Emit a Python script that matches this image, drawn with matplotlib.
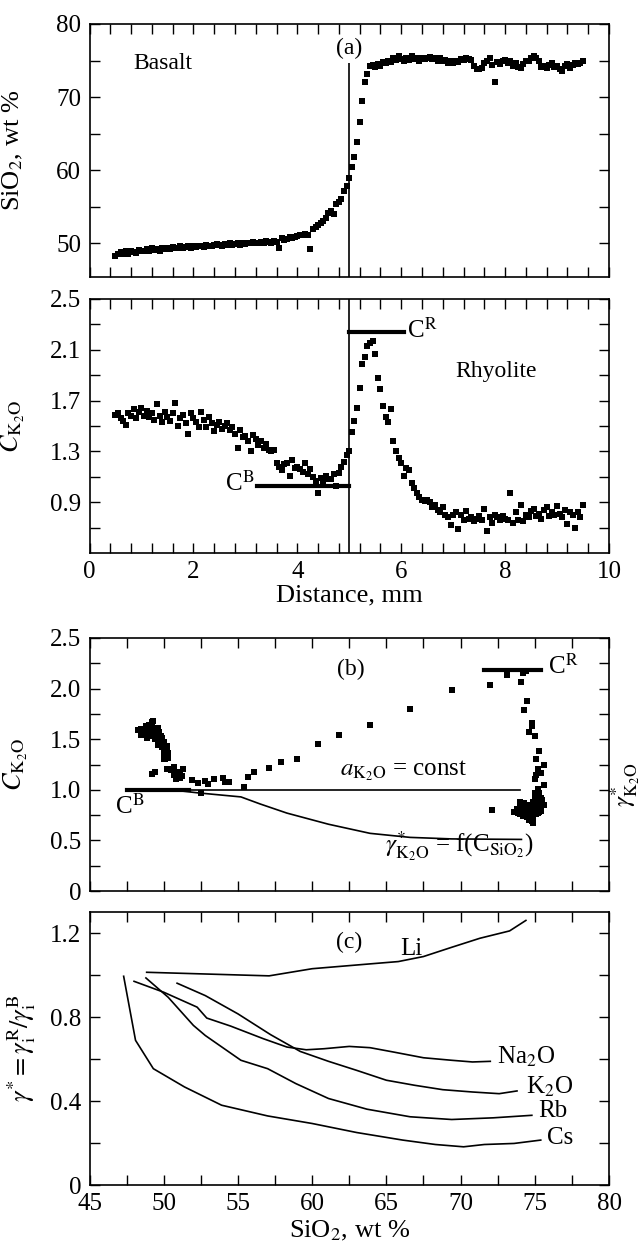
import matplotlib
matplotlib.use('Agg')
import matplotlib.pyplot as plt
from matplotlib.ticker import MultipleLocator, FixedLocator, FuncFormatter

plt.rcParams['font.family'] = ['Liberation Serif', 'DejaVu Serif']
plt.rcParams['mathtext.fontset'] = 'stix'

# ---- traverse data (panels a and lower distance panel) ----
distance = [
    0.50, 0.55, 0.60, 0.65, 0.70, 0.75, 0.80, 0.85, 0.90, 0.95,
    1.00, 1.05, 1.10, 1.15, 1.20, 1.25, 1.30, 1.35, 1.40, 1.45,
    1.50, 1.55, 1.60, 1.65, 1.70, 1.75, 1.80, 1.85, 1.90, 1.95,
    2.00, 2.05, 2.10, 2.15, 2.20, 2.25, 2.30, 2.35, 2.40, 2.45,
    2.50, 2.55, 2.60, 2.65, 2.70, 2.75, 2.80, 2.85, 2.90, 2.95,
    3.00, 3.05, 3.10, 3.15, 3.20, 3.25, 3.30, 3.35, 3.40, 3.45,
    3.50, 3.55, 3.60, 3.65, 3.70, 3.75, 3.80, 3.85, 3.90, 3.95,
    4.00, 4.05, 4.10, 4.15, 4.20, 4.25, 4.30, 4.35, 4.40, 4.45,
    4.50, 4.55, 4.60, 4.65, 4.70, 4.75, 4.80, 4.85, 4.90, 4.95,
    5.00, 5.05, 5.10, 5.15, 5.20, 5.25, 5.30, 5.35, 5.40, 5.45,
    5.50, 5.55, 5.60, 5.65, 5.70, 5.75, 5.80, 5.85, 5.90, 5.95,
    6.00, 6.05, 6.10, 6.15, 6.20, 6.25, 6.30, 6.35, 6.40, 6.45,
    6.50, 6.55, 6.60, 6.65, 6.70, 6.75, 6.80, 6.85, 6.90, 6.95,
    7.00, 7.05, 7.10, 7.15, 7.20, 7.25, 7.30, 7.35, 7.40, 7.45,
    7.50, 7.55, 7.60, 7.65, 7.70, 7.75, 7.80, 7.85, 7.90, 7.95,
    8.00, 8.05, 8.10, 8.15, 8.20, 8.25, 8.30, 8.35, 8.40, 8.45,
    8.50, 8.55, 8.60, 8.65, 8.70, 8.75, 8.80, 8.85, 8.90, 8.95,
    9.00, 9.05, 9.10, 9.15, 9.20, 9.25, 9.30, 9.35, 9.40, 9.45,
    9.50,
]

sio2 = [
    48.3, 48.5, 48.8, 48.5, 48.9, 48.6, 49.0, 48.8, 48.7, 49.1,
    49.0, 48.9, 49.2, 49.0, 49.3, 49.1, 49.2, 49.0, 49.3, 49.2,
    49.4, 49.2, 49.5, 49.3, 49.4, 49.6, 49.4, 49.5, 49.6, 49.4,
    49.6, 49.5, 49.7, 49.6, 49.5, 49.8, 49.7, 49.6, 49.8, 49.9,
    49.8, 49.7, 49.9, 49.8, 50.0, 49.8, 49.9, 50.0, 49.8, 50.0,
    49.9, 50.1, 50.0, 50.2, 50.1, 50.0, 50.2, 50.1, 50.3, 50.2,
    50.1, 50.3, 50.2, 49.4, 50.7, 50.5, 50.6, 50.8, 50.7, 50.9,
    51.0, 51.1, 51.2, 51.3, 51.1, 49.2, 51.9, 52.3, 52.5, 52.8,
    53.0, 53.4, 54.1, 54.4, 54.0, 55.4, 55.7, 56.1, 57.1, 57.9,
    59.0, 60.4, 61.8, 63.9, 66.6, 69.4, 72.0, 73.1, 74.2, 74.4,
    74.1, 74.5, 74.3, 74.8, 74.6, 75.0, 74.8, 75.3, 75.1, 75.6,
    75.2, 75.0, 75.4, 75.1, 75.6, 75.2, 75.3, 75.0, 75.4, 75.2,
    75.3, 75.5, 75.2, 75.4, 75.0, 75.3, 74.9, 75.1, 74.6, 74.9,
    74.7, 75.0, 74.8, 75.2, 75.1, 75.3, 75.2, 75.1, 74.3, 73.9,
    73.8, 74.0, 74.6, 74.9, 75.3, 74.4, 72.1, 74.8, 74.5, 75.0,
    75.1, 74.6, 75.0, 74.2, 74.7, 74.1, 74.0, 74.5, 74.9, 75.0,
    75.3, 75.6, 75.4, 74.9, 74.1, 74.3, 74.0, 74.4, 74.6, 74.1,
    74.3, 73.8, 73.6, 74.2, 74.5, 74.0, 74.4, 74.6, 74.5, 74.7,
    74.9,
]

k2o = [
    1.59, 1.60, 1.56, 1.54, 1.51, 1.60, 1.58, 1.63, 1.56, 1.61,
    1.64, 1.58, 1.62, 1.57, 1.60, 1.55, 1.67, 1.58, 1.53, 1.61,
    1.57, 1.54, 1.60, 1.68, 1.50, 1.56, 1.59, 1.52, 1.44, 1.60,
    1.56, 1.53, 1.49, 1.61, 1.55, 1.49, 1.57, 1.52, 1.46, 1.51,
    1.53, 1.48, 1.50, 1.52, 1.47, 1.49, 1.44, 1.33, 1.47, 1.41,
    1.42, 1.38, 1.30, 1.43, 1.40, 1.35, 1.38, 1.33, 1.36, 1.31,
    1.30, 1.31, 1.21, 1.18, 1.15, 1.20, 1.21, 1.11, 1.23, 1.17,
    1.18, 1.16, 1.14, 1.21, 1.12, 1.16, 1.10, 1.07, 0.97, 1.09,
    1.06, 1.11, 1.08, 1.08, 1.12, 1.03, 1.13, 1.18, 1.22, 1.27,
    1.30, 1.45, 1.54, 1.64, 1.80, 1.99, 2.04, 2.13, 2.15, 2.17,
    2.07, 1.88, 1.79, 1.66, 1.57, 1.53, 1.63, 1.38, 1.30, 1.25,
    1.21, 1.11, 1.17, 1.15, 1.05, 1.01, 0.97, 0.94, 0.92, 0.91,
    0.92, 0.90, 0.86, 0.88, 0.84, 0.82, 0.86, 0.80, 0.78, 0.72,
    0.80, 0.82, 0.69, 0.80, 0.76, 0.83, 0.77, 0.78, 0.75, 0.77,
    0.79, 0.76, 0.85, 0.67, 0.78, 0.74, 0.80, 0.78, 0.76, 0.79,
    0.77, 0.76, 0.97, 0.74, 0.82, 0.76, 0.88, 0.75, 0.80, 0.78,
    0.83, 0.85, 0.79, 0.81, 0.77, 0.84, 0.86, 0.79, 0.82, 0.80,
    0.87, 0.81, 0.78, 0.84, 0.73, 0.82, 0.80, 0.70, 0.82, 0.78,
    0.88,
]

# interface and end-member levels
interface = 5.0
cb_dist, cb_dist_start = 1.03, 3.22
cr_dist, cr_dist_end = 2.24, 6.06
cb_sio2_range, cb_level = (47.5, 51.7), 1.0
cr_sio2_range, cr_level = (71.6, 75.4), 2.18
const_sio2_range = (47.5, 74.0)

# gamma*(K2O) curve in panel (b)
gamma_sio2 = [50.5, 52.3, 55.2, 56.5, 58.3, 61.1, 63.9, 66.6, 69.4, 74.1]
gamma_k2o = [1.0, 0.97, 0.93, 0.86, 0.77, 0.66, 0.57, 0.53, 0.515, 0.51]

# panel (c) curves
li_x = [48.85, 57.1, 60.0, 63.9, 65.8, 67.5, 69.4, 71.3, 73.3, 74.4]
li_y = [1.013, 0.996, 1.03, 1.053, 1.064, 1.088, 1.132, 1.175, 1.21, 1.26]
na_x = [48.0, 50.0, 52.25, 52.9, 54.5, 56.7, 58.3, 59.6, 60.8, 62.5, 63.9, 65.5, 67.5, 69.4, 70.8, 72.0]
na_y = [0.97, 0.918, 0.847, 0.795, 0.757, 0.697, 0.657, 0.644, 0.649, 0.66, 0.654, 0.633, 0.606, 0.594, 0.586, 0.589]
k_x = [50.9, 52.8, 55.0, 57.2, 59.2, 61.1, 63.0, 65.0, 66.9, 68.8, 70.8, 72.6, 73.8]
k_y = [0.961, 0.902, 0.815, 0.716, 0.636, 0.589, 0.546, 0.499, 0.475, 0.454, 0.443, 0.435, 0.448]
rb_x = [48.8, 50.3, 52.0, 52.8, 55.2, 57.0, 58.9, 61.1, 63.7, 66.6, 69.4, 72.2, 74.8]
rb_y = [0.986, 0.894, 0.76, 0.712, 0.594, 0.554, 0.483, 0.412, 0.361, 0.325, 0.312, 0.32, 0.332]
cs_x = [47.3, 48.1, 49.3, 51.4, 53.9, 57.0, 60.0, 63.0, 66.1, 68.3, 70.2, 71.6, 73.6, 75.4]
cs_y = [0.994, 0.689, 0.554, 0.467, 0.38, 0.329, 0.293, 0.25, 0.214, 0.193, 0.182, 0.193, 0.198, 0.214]

TICK = 18
LAB = 19
ANN = 17


def style(ax):
    ax.tick_params(which='both', direction='in', top=True, right=True,
                   length=7.5, width=1.0, labelsize=TICK, pad=6)
    for s in ax.spines.values():
        s.set_linewidth(1.2)


def fmt(v, pos):
    return '0' if abs(v) < 1e-9 else f'{v:.1f}'


fig = plt.figure(figsize=(6.44, 12.41), dpi=100)
L, W = 0.139, 0.8067

# ---- (a) SiO2 vs distance ----
ax1 = fig.add_axes([L, 0.7768, W, 0.2039])
ax1.plot(distance, sio2, 's', color='black', ms=3.8, mew=0)
ax1.vlines(interface, 45.4, 74.6, color='black', lw=1.2)
ax1.set_xlim(0, 10)
ax1.set_ylim(45.4, 80)
ax1.xaxis.set_major_locator(MultipleLocator(2))
ax1.xaxis.set_minor_locator(MultipleLocator(0.4))
ax1.yaxis.set_major_locator(MultipleLocator(10))
ax1.yaxis.set_minor_locator(MultipleLocator(5))
style(ax1)
ax1.tick_params(labelbottom=False)
ax1.set_ylabel(r'SiO$_2$, wt %', fontsize=LAB)
ax1.yaxis.set_label_coords(-0.124, 0.5)
ax1.text(0.85, 74.6, 'Basalt', fontsize=ANN, ha='left', va='center')
ax1.text(interface, 76.7, '(a)', fontsize=ANN, ha='center', va='center')

# ---- C_K2O vs distance ----
ax2 = fig.add_axes([L, 0.5544, W, 0.2047])
ax2.plot(distance, k2o, 's', color='black', ms=3.8, mew=0)
ax2.axvline(interface, color='black', lw=1.2)
ax2.plot([cb_dist_start, interface], [cb_dist, cb_dist], color='black', lw=3)
ax2.plot([interface, cr_dist_end], [cr_dist, cr_dist], color='black', lw=3)
ax2.set_xlim(0, 10)
ax2.set_ylim(0.5, 2.5)
ax2.xaxis.set_major_locator(MultipleLocator(2))
ax2.xaxis.set_minor_locator(MultipleLocator(0.4))
ax2.yaxis.set_major_locator(FixedLocator([0.9, 1.3, 1.7, 2.1, 2.5]))
ax2.yaxis.set_minor_locator(FixedLocator([0.7, 1.1, 1.5, 1.9, 2.3]))
style(ax2)
ax2.set_ylabel(r'$C_{\mathrm{K_2O}}$', fontsize=LAB)
ax2.yaxis.set_label_coords(-0.12, 0.5)
ax2.set_xlabel('Distance, mm', fontsize=LAB)
ax2.xaxis.set_label_coords(0.5, -0.125)
ax2.text(3.17, 1.05, r'C$^{\mathrm{B}}$', fontsize=ANN + 1, ha='right', va='center')
ax2.text(6.12, 2.25, r'C$^{\mathrm{R}}$', fontsize=ANN + 1, ha='left', va='center')
ax2.text(7.05, 1.93, 'Rhyolite', fontsize=ANN, ha='left', va='center')

# ---- (b) C_K2O vs SiO2 ----
ax3 = fig.add_axes([L, 0.2820, W, 0.2039])
ax3.plot(sio2, k2o, 's', color='black', ms=4.8, mew=0)
ax3.plot(const_sio2_range, [cb_level, cb_level], color='black', lw=1.2)
ax3.plot(cb_sio2_range, [cb_level, cb_level], color='black', lw=3)
ax3.plot(cr_sio2_range, [cr_level, cr_level], color='black', lw=3)
ax3.plot(gamma_sio2, gamma_k2o, color='black', lw=1.2)
ax3.set_xlim(45, 80)
ax3.set_ylim(0, 2.5)
ax3.xaxis.set_major_locator(MultipleLocator(5))
ax3.xaxis.set_minor_locator(MultipleLocator(2.5))
ax3.yaxis.set_major_locator(MultipleLocator(0.5))
ax3.yaxis.set_minor_locator(MultipleLocator(0.25))
ax3.yaxis.set_major_formatter(FuncFormatter(fmt))
style(ax3)
ax3.tick_params(labelbottom=False)
ax3.set_ylabel(r'$C_{\mathrm{K_2O}}$', fontsize=LAB)
ax3.yaxis.set_label_coords(-0.115, 0.5)
ax3.text(62.6, 2.19, '(b)', fontsize=ANN, ha='center', va='center')
ax3.text(75.9, 2.22, r'C$^{\mathrm{R}}$', fontsize=ANN + 1, ha='left', va='center')
ax3.text(46.7, 0.84, r'C$^{\mathrm{B}}$', fontsize=ANN + 1, ha='left', va='center')
ax3.text(61.9, 1.145, r'$a_{\mathrm{K_2O}}$ = const', fontsize=ANN + 1,
         ha='left', va='baseline')
ax3.text(64.9, 0.375, r'$\gamma^{*}_{\mathrm{K_2O}}$ = f(C$_{\mathrm{SiO_2}}$)',
         fontsize=ANN + 1, ha='left', va='baseline')
ax3.text(1.032, 0.42, r'$\gamma^{*}_{\mathrm{K_2O}}$', fontsize=LAB - 1,
         rotation=90, ha='center', va='center', transform=ax3.transAxes)

# ---- (c) gamma* vs SiO2 ----
ax4 = fig.add_axes([L, 0.0451, W, 0.2200])
for xs, ys in [(li_x, li_y), (na_x, na_y), (k_x, k_y), (rb_x, rb_y), (cs_x, cs_y)]:
    ax4.plot(xs, ys, color='black', lw=1.2)
ax4.set_xlim(45, 80)
ax4.set_ylim(0, 1.3)
ax4.xaxis.set_major_locator(MultipleLocator(5))
ax4.xaxis.set_minor_locator(MultipleLocator(2.5))
ax4.yaxis.set_major_locator(MultipleLocator(0.4))
ax4.yaxis.set_minor_locator(MultipleLocator(0.2))
ax4.yaxis.set_major_formatter(FuncFormatter(fmt))
style(ax4)
ax4.set_ylabel(r'$\gamma^{*} = \gamma_{\mathrm{i}}^{\mathrm{R}}/\gamma_{\mathrm{i}}^{\mathrm{B}}$',
               fontsize=LAB)
ax4.yaxis.set_label_coords(-0.10, 0.5)
ax4.set_xlabel(r'SiO$_2$, wt %', fontsize=LAB)
ax4.xaxis.set_label_coords(0.5, -0.125)
ax4.text(62.5, 1.156, '(c)', fontsize=ANN, ha='center', va='center')
ax4.text(65.9, 1.124, 'Li', fontsize=ANN + 1, ha='left', va='center')
ax4.text(72.45, 0.61, r'Na$_2$O', fontsize=ANN + 1, ha='left', va='center')
ax4.text(74.4, 0.467, r'K$_2$O', fontsize=ANN + 1, ha='left', va='center')
ax4.text(75.2, 0.353, 'Rb', fontsize=ANN + 1, ha='left', va='center')
ax4.text(75.8, 0.226, 'Cs', fontsize=ANN + 1, ha='left', va='center')

fig.savefig('out.png', dpi=100)
